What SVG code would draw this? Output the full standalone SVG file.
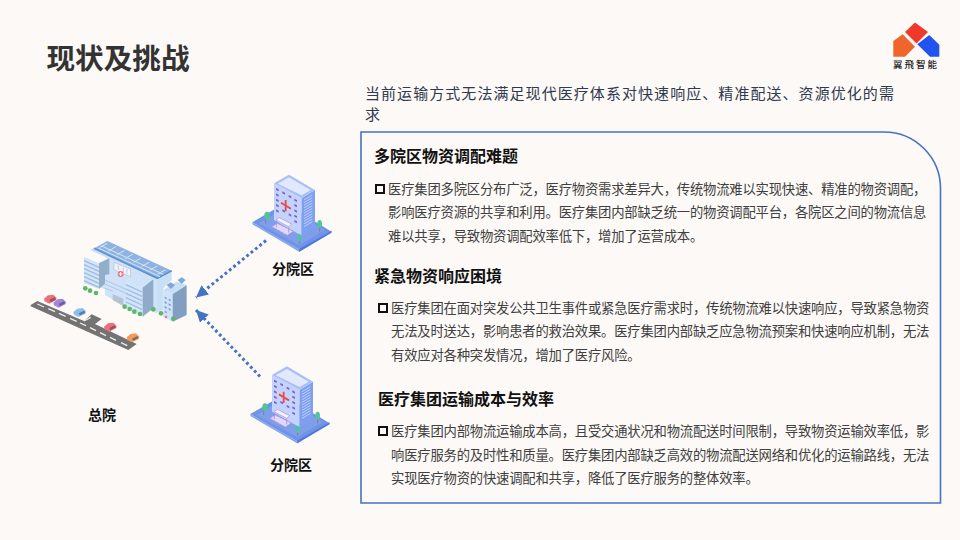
<svg xmlns="http://www.w3.org/2000/svg" width="960" height="540" viewBox="0 0 960 540">
<style>
text{font-family:"Noto Sans CJK SC","Noto Sans",sans-serif}
.h{font-size:16px;font-weight:700;fill:#111}
.b{font-size:13.33px;fill:#404040;letter-spacing:-.2px}
.l{font-size:14px;font-weight:700;fill:#111}
.s{font-size:15px;letter-spacing:1.06px;fill:#2f3a4f}
.bx{fill:none;stroke:#111;stroke-width:2}
.con{fill:none;stroke:#4472c4;stroke-width:3;stroke-dasharray:2.800 2.800}
.win{fill:#7a5fd6}
.st{fill:none;stroke:#9dbcdf;stroke-width:4}
.face{fill:#d3e5f8}
.tree{fill:#5fb56b}
</style>
<defs>
<marker id="ah" markerUnits="userSpaceOnUse" markerWidth="14" markerHeight="14" refX="12" refY="6" orient="auto"><path d="M0 0L12 6L0 12z" fill="#4472c4"/></marker>
<g id="bld">
<path d="M187 157L285 100L425 185L328 245Z" fill="#6f93e6"/>
<path d="M187 157L328 237L328 245L187 163Z" fill="#8aa8ee"/>
<path d="M328 237L425 182L425 188L328 245Z" fill="#4f78de"/>
<path d="M205 160L290 112L405 180L328 226Z" fill="#7e9eea"/>
<path d="M252 40L335 85V197L252 150Z" fill="#c4d3fb"/>
<path d="M335 85L375 60V170L335 197Z" fill="#7f9ff0"/>
<path d="M252 40L297 14L375 60L335 85Z" fill="#a9bff7"/>
<path d="M263 41L297 22L362 60L335 76Z" fill="#e3e9fd"/>
<path d="M342 90L367 75M342 98L367 83M342 106L367 91M342 114L367 99M342 122L367 107M342 130L367 115M342 138L367 123M342 146L367 131M342 154L367 139M342 162L367 147M342 170L367 155" stroke="#c9d6fb" stroke-width="2.500" fill="none"/>
<path class="win" d="M258 54l8 4v6l-8-4zM258 70l8 4v6l-8-4zM258 86l8 4v6l-8-4zM258 102l8 4v6l-8-4zM258 118l8 4v6l-8-4zM277 64l8 4v6l-8-4zM277 118l8 4v6l-8-4zM296 75l8 4v6l-8-4zM296 130l8 4v6l-8-4zM313 86l8 4v6l-8-4zM313 102l8 4v6l-8-4zM313 118l8 4v6l-8-4zM313 134l8 4v6l-8-4zM313 150l8 4v6l-8-4z"/>
<path d="M287 90V124M273 98L303 116" stroke="#e8494a" stroke-width="5.500" fill="none"/>
<path d="M245 170L262 160L310 184L292 196Z" fill="#e3d8f8" stroke="#a98be6" stroke-width="3" stroke-dasharray="3 2"/>
<path d="M258 150L268 143L305 162L296 170Z" fill="#f6f3fe" stroke="#a98be6" stroke-width="2"/>
<path d="M259 154V172M296 172V188" stroke="#a98be6" stroke-width="2.500"/>
<path d="M227 140V160M389 165V185M329 205V222" stroke="#a06a70" stroke-width="2.500"/>
<ellipse cx="231" cy="137" rx="8" ry="12" fill="#4fc59a"/><ellipse cx="389" cy="162" rx="7" ry="12" fill="#4fc59a"/><ellipse cx="329" cy="203" rx="5.500" ry="11" fill="#4fc59a"/>
</g>
<g id="car"><path d="M0 12L12 2L28 0L38 10L36 17L16 27L2 20Z"/><path d="M16 16L32 8L36 14L20 22Z" fill="#33415c" fill-opacity=".55"/></g>
</defs>
<rect width="960" height="540" fill="#fcf9f6"/>
<text x="46.500" y="69" font-size="28.600" font-weight="700" fill="#333">现状及挑战</text>
<g id="logo">
<path d="M905 32L915 22.500L928 32L916.500 43.500Z" fill="#f0392b"/>
<path d="M893.300 41L902.700 34.300L915 46.700L905 56.700H893.300Z" fill="#f0652b"/>
<path d="M917.300 44.300L929.300 35L939.300 44.700V56.700H930Z" fill="#2353ee"/>
<text x="893" y="67.500" font-size="9.500" font-weight="500" letter-spacing="2" fill="#222">翼飛智能</text>
</g>
<text class="s" x="365" y="98.500">当前运输方式无法满足现代医疗体系对快速响应、精准配送、资源优化的需</text>
<text class="s" x="365" y="119.500">求</text>
<g id="connectors">
<path class="con" d="M266 240.500L196 297.500" marker-end="url(#ah)"/>
<path class="con" d="M260 376.500L196 310" marker-end="url(#ah)"/>
</g>
<g id="hospital" transform="translate(20,220) scale(.3333)">
<path d="M32 255L52 243L192 303L215 283L245 297L225 312L350 372L325 390L32 259Z" fill="#737373"/>
<path d="M52 252L72 261M85 266L105 275M117 280L137 289M150 295L170 304M180 309L198 317M210 323L228 332M240 338L258 347M270 352L288 361M303 368L322 377M192 303L212 292" stroke="#eee" stroke-width="4" fill="none"/>
<use href="#car" transform="translate(72,224)" fill="#ef6f75"/>
<use href="#car" transform="translate(100,236)" fill="#a286dd"/>
<use href="#car" transform="translate(160,264)" fill="#8fbdf0"/>
<use href="#car" transform="translate(252,308)" fill="#ef6f75"/>
<use href="#car" transform="translate(320,340)" fill="#f09a5c"/>
<path d="M210 90L262 63L455 152V180L430 205V270L405 280V180Z" fill="#c9dff6"/>
<path d="M225 85L262 63L455 152L412 178Z" fill="#8fb3e0"/>
<path d="M222 85L412 175M412 175L455 152" stroke="#5f90cf" stroke-width="5"/>
<path d="M240 82L262 70M265 93L288 80M290 104L313 92M315 116L338 103M340 127L362 115M365 139L388 127M390 150L412 138M413 162L436 150M245 78L430 163M235 84L420 170" stroke="#d4e4f6" stroke-width="3" fill="none"/>
<path d="M238 128L268 113L410 178V280L238 200Z" fill="#cfe2f7"/>
<path class="face" d="M192 110L237 130V207L192 190Z"/>
<path class="st" d="M192 122L237 142M192 134L237 154M192 146L237 166M192 158L237 178M192 170L237 190M192 182L237 202"/>
<path d="M237 130L268 115V180L237 207Z" fill="#93aecb"/>
<path d="M255 165Q285 155 318 190V262L255 225Z" fill="#cfe2f7"/>
<path d="M255 180L318 208M255 192L318 220M255 204L278 214" stroke="#a3c3e4" stroke-width="2.500"/>
<path d="M278 222L310 236V258L278 240Z" fill="#b4c3d2"/>
<path class="face" d="M318 180L368 203V290L318 262Z"/>
<path class="st" d="M318 194L366 216M318 207L366 229M318 220L366 242M318 233L366 255M318 246L366 268"/>
<path d="M368 203L400 178V265L368 290Z" fill="#8fabc9"/>
<path d="M282 127L332 147V170L282 150Z" fill="#eef3f9" stroke="#aebfd0" stroke-width="2"/>
<path d="M295 135V150M310 142V157M321 147V162" stroke="#aebfd0" stroke-width="2"/>
<circle cx="302" cy="162" r="9" fill="#f0707a"/><path d="M302 156V168M296 162H308" stroke="#fff" stroke-width="3"/>
<path d="M430 210L458 222V305L430 290Z" fill="#cfe2f8"/>
<path d="M458 222L500 195V285L458 305Z" fill="#829fc2"/>
<path d="M430 210L470 185L500 195L458 222Z" fill="#c8def5"/>
<path d="M440 195L452 187L465 195L453 207Z" fill="#7fa8d8"/><path d="M473 180L485 172L497 180L485 192Z" fill="#7fa8d8"/>
<path d="M434 230l6 3v5l-6-3zM446 236l6 3v5l-6-3zM434 244l6 3v5l-6-3zM446 250l6 3v5l-6-3zM434 258l6 3v5l-6-3zM446 264l6 3v5l-6-3zM434 272l6 3v5l-6-3z" fill="#6f9bd8"/>
<circle cx="438" cy="291" r="4" fill="#e87a8a"/>
<g class="tree"><circle cx="196" cy="205" r="7"/><circle cx="210" cy="212" r="7"/><circle cx="228" cy="219" r="7"/><circle cx="314" cy="260" r="7"/><circle cx="329" cy="267" r="7"/><circle cx="343" cy="275" r="7"/><circle cx="360" cy="282" r="7"/><circle cx="400" cy="268" r="7"/><circle cx="423" cy="280" r="7"/><circle cx="460" cy="296" r="7"/></g>
</g>
<g id="branch1" transform="translate(190,170) scale(.3333)"><use href="#bld"/></g>
<g id="branch2" transform="translate(188,361.700) scale(.3333)"><use href="#bld"/></g>
<text class="l" x="272" y="274">分院区</text>
<text class="l" x="270" y="470">分院区</text>
<text class="l" x="88" y="420">总院</text>
<g id="panel">
<path d="M361 132H884A56.500 56.500 0 0 1 940.500 188.500V503H361Z" fill="none" stroke="#4472c4" stroke-width="1.600"/>
<text class="h" x="374" y="162">多院区物资调配难题</text>
<rect class="bx" x="376" y="185" width="8" height="8"/>
<text class="b" x="388" y="194">医疗集团多院区分布广泛，医疗物资需求差异大，传统物流难以实现快速、精准的物资调配，</text>
<text class="b" x="388" y="217">影响医疗资源的共享和利用。医疗集团内部缺乏统一的物资调配平台，各院区之间的物流信息</text>
<text class="b" x="388" y="241">难以共享，导致物资调配效率低下，增加了运营成本。</text>
<text class="h" x="374" y="282">紧急物资响应困境</text>
<rect class="bx" x="379" y="304" width="8" height="8"/>
<text class="b" x="391" y="313">医疗集团在面对突发公共卫生事件或紧急医疗需求时，传统物流难以快速响应，导致紧急物资</text>
<text class="b" x="391" y="336">无法及时送达，影响患者的救治效果。医疗集团内部缺乏应急物流预案和快速响应机制，无法</text>
<text class="b" x="391" y="360">有效应对各种突发情况，增加了医疗风险。</text>
<text class="h" x="378" y="405">医疗集团运输成本与效率</text>
<rect class="bx" x="379" y="427" width="8" height="8"/>
<text class="b" x="391" y="436">医疗集团内部物流运输成本高，且受交通状况和物流配送时间限制，导致物资运输效率低，影</text>
<text class="b" x="391" y="460">响医疗服务的及时性和质量。医疗集团内部缺乏高效的物流配送网络和优化的运输路线，无法</text>
<text class="b" x="391" y="483">实现医疗物资的快速调配和共享，降低了医疗服务的整体效率。</text>
</g>
</svg>
